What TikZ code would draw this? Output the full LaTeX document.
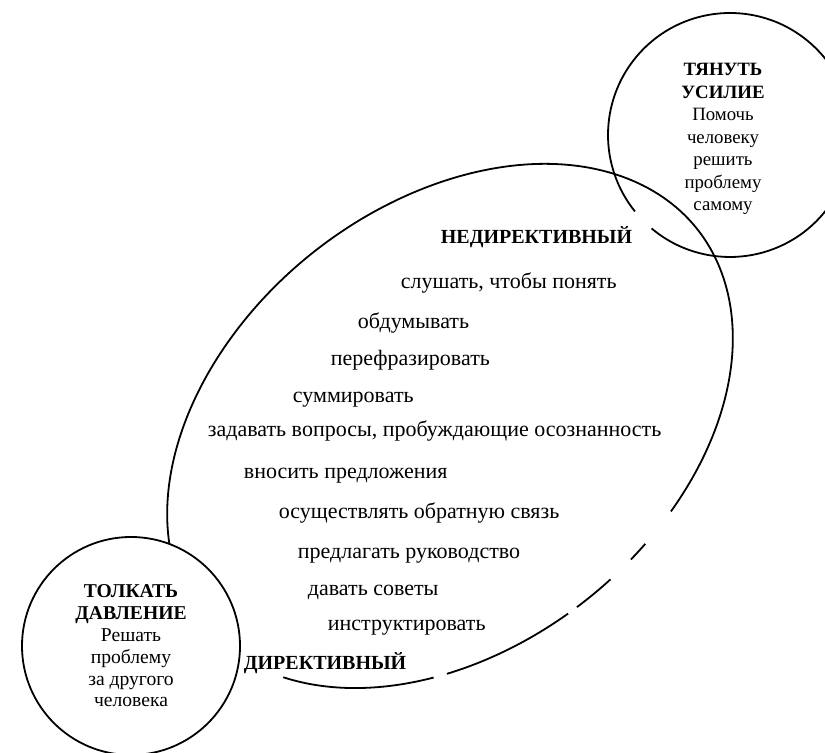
\documentclass[tikz,border=0pt]{standalone}
\usepackage{fontspec}
\setmainfont{Liberation Serif}
\tikzset{zone/.style={circle,minimum size=#1,inner sep=0pt,align=center},
         item/.style={anchor=base west,inner sep=0pt,font=\fontsize{11}{13}\selectfont},
         heading/.style={item,font=\fontsize{10}{12}\selectfont\bfseries}}

\begin{document}
\begin{tikzpicture}[x=0.5pt,y=0.5pt,line width=0.9pt]
              \useasboundingbox (0,0) rectangle (825,753);

              % the two circles
              \node (pull) [zone=122pt,font=\fontsize{9.4}{11.25}\selectfont] at (723,614) {\textbf{ТЯНУТЬ}\\ \textbf{УСИЛИЕ}\\ Помочь\\ человеку\\ решить\\ проблему\\ самому};
              \node (push) [zone=109pt,draw,font=\fontsize{9.8}{10.9}\selectfont] at (131,107) {\textbf{ТОЛКАТЬ}\\ \textbf{ДАВЛЕНИЕ}\\ Решать\\ проблему\\ за другого\\ человека};
              \draw ([shift={(7,4)}]pull.center) ++(230:61pt) arc[start angle=230,end angle=578.8,radius=61pt];

              % the ellipse, broken at the bottom
              \begin{scope}[shift={(450,327)},rotate=38.6]
                \foreach \s/\e in {-67.8/158, 204.7/237.5, 240.2/265.5, 267.5/275.4, 280.6/284.5}
                  \draw ({316*cos(\s)},{221*sin(\s)}) arc[start angle=\s,end angle=\e,x radius=158pt,y radius=110.5pt];
              \end{scope}

              \node (nondir) [heading] at (440,509) {НЕДИРЕКТИВНЫЙ};
              \node (listen) [item] at (400,464) {слушать, чтобы понять};
              \node (ponder) [item] at (357,424) {обдумывать};
              \node (rephrase) [item] at (330,387) {перефразировать};
              \node (summ) [item] at (292,350) {суммировать};
              \node (ask) [item] at (207,316) {задавать вопросы, пробуждающие осознанность};
              \node (suggest) [item] at (243,274) {вносить предложения};
              \node (feedback) [item] at (278,234) {осуществлять обратную связь};
              \node (guide) [item] at (297,194) {предлагать руководство};
              \node (advise) [item] at (307,157) {давать советы};
              \node (instruct) [item] at (327,122) {инструктировать};
              \node (dir) [heading] at (243,83) {ДИРЕКТИВНЫЙ};
            \end{tikzpicture}
\end{document}
